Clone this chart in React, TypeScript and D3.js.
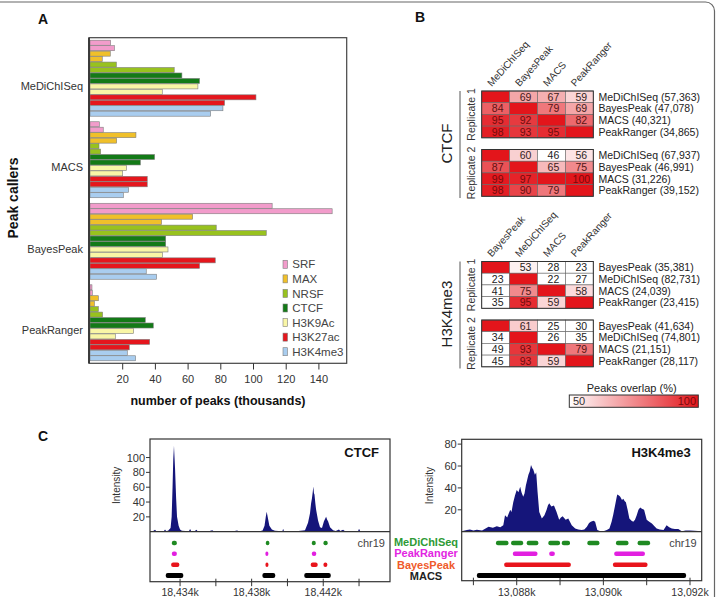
import React from "react";
import * as d3 from "d3";

const W = 720;
const H = 597;
const FONT = "'Liberation Sans', Arial, Helvetica, sans-serif";

// ---------- Panel A data ----------
const callers = ["MeDiChISeq", "MACS", "BayesPeak", "PeakRanger"];
const marks = ["SRF", "MAX", "NRSF", "CTCF", "H3K9Ac", "H3K27ac", "H3K4me3"];
const markColors = ["#f29ccb", "#f0c02a", "#98c21e", "#137a17", "#f9f6a6", "#e5161d", "#a9cdef"];
// number of peaks (thousands), two replicates per mark, in mark order
const peaksMeDiChISeq = [12.6, 14.9, 12.4, 7.5, 16.1, 51.5, 56.2, 67.0, 66.0, 44.2, 101.5, 82.3, 81.3, 73.8];
const peaksMACS = [5.7, 8.1, 28.1, 16.3, 5.5, 6.5, 39.5, 30.8, 22.4, 20.0, 35.0, 35.0, 23.6, 20.4];
const peaksBayesPeak = [111.4, 148.1, 62.8, 43.8, 77.2, 107.8, 46.3, 46.3, 47.7, 44.4, 76.6, 67.0, 34.4, 40.7];
const peaksPeakRanger = [1.2, 1.4, 5.1, 2.7, 5.1, 7.7, 33.8, 38.7, 26.7, 15.5, 36.5, 24.0, 22.8, 27.9];
const peaksByCaller = [peaksMeDiChISeq, peaksMACS, peaksBayesPeak, peaksPeakRanger];
const xTicksA = [20, 40, 60, 80, 100, 120, 140];

// ---------- Panel B data ----------
const ctcfCols = ["MeDiChISeq", "BayesPeak", "MACS", "PeakRanger"];
const ctcfRep1 = [
  [null, 69, 67, 59],
  [84, null, 79, 69],
  [95, 92, null, 82],
  [98, 93, 95, null],
];
const ctcfRep2 = [
  [null, 60, 46, 56],
  [87, null, 65, 75],
  [99, 97, null, 100],
  [98, 90, 79, null],
];
const ctcfRep1Labels = ["MeDiChISeq (57,363)", "BayesPeak (47,078)", "MACS (40,321)", "PeakRanger (34,865)"];
const ctcfRep2Labels = ["MeDiChISeq (67,937)", "BayesPeak (46,991)", "MACS (31,226)", "PeakRanger (39,152)"];

const k4Cols = ["BayesPeak", "MeDiChISeq", "MACS", "PeakRanger"];
const k4Rep1 = [
  [null, 53, 28, 23],
  [23, null, 22, 27],
  [41, 75, null, 58],
  [35, 95, 59, null],
];
const k4Rep2 = [
  [null, 61, 25, 30],
  [34, null, 26, 35],
  [49, 93, null, 79],
  [45, 93, 59, null],
];
const k4Rep1Labels = ["BayesPeak (35,381)", "MeDiChISeq (82,731)", "MACS (24,039)", "PeakRanger (23,415)"];
const k4Rep2Labels = ["BayesPeak (41,634)", "MeDiChISeq (74,801)", "MACS (21,151)", "PeakRanger (28,117)"];
const overlapDomain = [50, 100];

// ---------- Panel C data ----------
const trackCallers = ["MeDiChISeq", "PeakRanger", "BayesPeak", "MACS"];
const trackColors = ["#1f8a22", "#e21fe0", "#e8141c", "#000000"];
const trackLabelColors = ["#2e9a36", "#e225e2", "#ef5a2a", "#222222"];

const ctcfSignal: [number, number][] = [
  [18432.35, 0.5], [18432.5, 0.8], [18432.6, 2.5], [18432.68, 0.6], [18432.9, 0.7], [18433.1, 0.8],
  [18433.16, 3], [18433.22, 0.8], [18433.33, 1.2], [18433.47, 5], [18433.53, 20], [18433.58, 60],
  [18433.62, 98], [18433.66, 116], [18433.69, 100], [18433.72, 85], [18433.78, 45], [18433.83, 20],
  [18433.92, 8], [18434.0, 3], [18434.1, 1.2], [18434.3, 0.8], [18434.5, 1], [18434.56, 3.5],
  [18434.62, 0.8], [18434.8, 0.6], [18434.92, 2.5], [18434.98, 0.6], [18435.3, 0.5], [18435.6, 0.6],
  [18435.8, 2], [18435.88, 0.6], [18436.2, 0.6], [18436.6, 0.8], [18437.0, 0.6], [18437.18, 1.5],
  [18437.3, 0.6], [18437.8, 0.7], [18438.3, 0.8], [18438.5, 1], [18438.61, 1.5], [18438.72, 8],
  [18438.79, 20], [18438.84, 27], [18438.91, 18], [18438.99, 8], [18439.13, 3], [18439.3, 1.2],
  [18439.5, 0.8], [18439.72, 1], [18439.76, 4], [18439.8, 1], [18440.2, 0.7], [18440.6, 0.8],
  [18440.87, 1.5], [18440.98, 2], [18441.15, 12], [18441.22, 20], [18441.26, 25], [18441.32, 38],
  [18441.37, 45], [18441.42, 55], [18441.45, 61], [18441.48, 52], [18441.51, 50], [18441.56, 38],
  [18441.6, 30], [18441.66, 22], [18441.71, 15], [18441.82, 6], [18441.93, 5], [18442.04, 14],
  [18442.1, 17], [18442.16, 20], [18442.22, 16], [18442.27, 14], [18442.38, 6], [18442.55, 2],
  [18442.7, 1], [18442.88, 3], [18442.95, 1], [18443.11, 2.5], [18443.2, 0.8], [18443.6, 0.6],
  [18443.95, 1], [18444.0, 4], [18444.06, 1], [18444.5, 0.6], [18445.0, 0.5], [18445.7, 0.5],
];
const ctcfIntervals: [number, number][][] = [
  [[18433.54, 18433.82], [18438.79, 18438.99], [18441.36, 18441.58], [18442.01, 18442.25]],
  [[18433.54, 18433.82], [18438.8, 18438.9], [18441.36, 18441.61]],
  [[18433.5, 18433.96], [18438.79, 18438.92], [18441.3, 18441.69], [18442.01, 18442.23]],
  [[18433.2, 18434.18], [18438.6, 18439.32], [18440.94, 18442.42]],
];
const ctcfXTicks = [18434, 18436, 18438, 18440, 18442, 18444];
const ctcfXLabels = [18434, 18438, 18442];
const ctcfYTicks = [20, 40, 60, 80, 100];

const k4Signal: [number, number][] = [
  [13086.73, 0.5], [13086.85, 1.5], [13086.92, 2], [13087.0, 1], [13087.08, 1.8], [13087.2, 1.2],
  [13087.35, 4.5], [13087.45, 3.5], [13087.54, 5], [13087.62, 4], [13087.69, 6], [13087.73, 15],
  [13087.78, 13], [13087.85, 20], [13087.88, 18], [13087.92, 27], [13087.96, 33], [13088.0, 38],
  [13088.04, 36], [13088.08, 41], [13088.11, 36], [13088.15, 32], [13088.18, 35], [13088.21, 42],
  [13088.24, 47], [13088.27, 52], [13088.3, 55], [13088.33, 61], [13088.36, 58], [13088.38, 57],
  [13088.42, 52], [13088.45, 54], [13088.48, 37], [13088.52, 18], [13088.58, 12], [13088.64, 15],
  [13088.69, 20], [13088.72, 24], [13088.75, 26], [13088.8, 23], [13088.86, 24], [13088.92, 18],
  [13088.98, 11], [13089.02, 13], [13089.06, 14], [13089.13, 11], [13089.19, 12], [13089.27, 6],
  [13089.35, 3], [13089.42, 2], [13089.5, 1.5], [13089.56, 2], [13089.62, 4.5], [13089.67, 8],
  [13089.71, 9], [13089.77, 10], [13089.81, 9], [13089.86, 1.5], [13089.93, 0.5], [13090.0, 0.3],
  [13090.08, 1.5], [13090.14, 3], [13090.19, 9], [13090.23, 16], [13090.27, 24], [13090.3, 30],
  [13090.32, 34], [13090.36, 33], [13090.39, 32], [13090.43, 29], [13090.46, 30], [13090.49, 28],
  [13090.52, 27], [13090.56, 20], [13090.6, 12], [13090.65, 10], [13090.69, 9], [13090.73, 11],
  [13090.77, 15], [13090.81, 20], [13090.85, 22], [13090.89, 21], [13090.94, 20], [13091.0, 11],
  [13091.06, 9], [13091.12, 7.5], [13091.18, 5], [13091.23, 3], [13091.3, 2], [13091.39, 1.5],
  [13091.46, 6], [13091.52, 4], [13091.58, 3], [13091.65, 2.5], [13091.73, 2.4], [13091.81, 0.5],
  [13091.9, 1], [13092.0, 1], [13092.1, 0.8], [13092.27, 0.5],
];
const k4Intervals: [number, number][][] = [
  [[13087.52, 13087.81], [13087.87, 13088.15], [13088.23, 13088.5], [13088.73, 13089.0],
   [13089.04, 13089.23], [13089.63, 13089.91], [13090.29, 13090.58], [13090.79, 13091.08]],
  [[13087.91, 13088.48], [13088.75, 13088.88], [13090.25, 13090.96]],
  [[13087.71, 13089.25], [13090.22, 13091.02]],
  [[13087.08, 13091.91]],
];
const k4XTicks = [13087, 13088, 13089, 13090, 13091, 13092];
const k4XLabels = [13088, 13090, 13092];
const k4YTicks = [20, 40, 60, 80];

// ---------- Components ----------
const overlapColor = d3.scaleLinear<string>().domain(overlapDomain).range(["#ffffff", "#e3151b"]).clamp(true);
const overlapText = d3.scaleLinear<string>().domain(overlapDomain).range(["#222222", "#7a0a0a"]).clamp(true);

type HeatProps = {
  top: number;
  cols: string[];
  rep1: (number | null)[][];
  rep2: (number | null)[][];
  labels1: string[];
  labels2: string[];
  title: string;
};

function Heatmap({ top, cols, rep1, rep2, labels1, labels2, title }: HeatProps) {
  const x = d3.scaleBand<string>().domain(cols).range([481.7, 593.3]);
  const slots = d3.scaleBand<number>().domain(d3.range(9)).range([top, top + 9 * 11.7]);
  const blocks = [
    { data: rep1, labels: labels1, off: 0, name: "Replicate 1" },
    { data: rep2, labels: labels2, off: 5, name: "Replicate 2" },
  ];
  const bw = x.bandwidth();
  const rh = slots.bandwidth();
  return (
    <g>
      {cols.map((c) => (
        <text
          key={c}
          transform={`translate(${x(c)! + bw / 2 - 4},${top - 4}) rotate(-48)`}
          fontSize={10}
          fill="#333"
        >
          {c}
        </text>
      ))}
      <line x1={460} x2={460} y1={top} y2={top + 107} stroke="#555" strokeWidth={1} />
      <text
        transform={`translate(${452},${top + 52.6}) rotate(-90)`}
        textAnchor="middle"
        fontSize={15}
        fill="#222"
      >
        {title}
      </text>
      {blocks.map((b) => {
        const y0 = slots(b.off)!;
        return (
          <g key={b.name}>
            <text
              transform={`translate(${474.5},${y0 + 2 * rh}) rotate(-90)`}
              textAnchor="middle"
              fontSize={10.5}
              fill="#333"
            >
              {b.name}
            </text>
            {b.data.map((row, ri) =>
              row.map((v, ci) => {
                const val = v === null ? 100 : v;
                const cx = x(cols[ci])!;
                const cy = slots(b.off + ri)!;
                return (
                  <g key={`${ri}-${ci}`}>
                    <rect x={cx} y={cy} width={bw} height={rh} fill={overlapColor(val)} stroke="#666" strokeWidth={0.6} />
                    {v !== null && (
                      <text
                        x={cx + bw / 2 + 2}
                        y={cy + rh / 2}
                        dy="0.36em"
                        textAnchor="middle"
                        fontSize={10.5}
                        fill={overlapText(val)}
                      >
                        {v}
                      </text>
                    )}
                  </g>
                );
              })
            )}
            <rect x={481.7} y={y0} width={593.3 - 481.7} height={4 * rh} fill="none" stroke="#333" strokeWidth={1} />
            {b.labels.map((l, i) => (
              <text key={l} x={598.5} y={slots(b.off + i)! + rh / 2} dy="0.36em" fontSize={10.5} fill="#222">
                {l}
              </text>
            ))}
          </g>
        );
      })}
    </g>
  );
}

type TrackProps = {
  left: number;
  right: number;
  top: number;
  bottom: number;
  base: number;
  xDomain: [number, number];
  yMax: number;
  yTicks: number[];
  xTicks: number[];
  xLabels: number[];
  signal: [number, number][];
  intervals: [number, number][][];
  title: string;
  intensityX: number;
};

function Track(p: TrackProps) {
  const x = d3.scaleLinear().domain(p.xDomain).range([p.left, p.right]);
  const y = d3.scaleLinear().domain([0, p.yMax]).range([p.base, p.top]);
  const rows = d3.scalePoint<string>().domain(trackCallers).range([543, 575.5]);
  const area = d3
    .area<[number, number]>()
    .x((d) => x(d[0]))
    .y0(p.base)
    .y1((d) => y(d[1]))
    .curve(d3.curveLinear);
  const fmt = d3.format(",");
  return (
    <g>
      <path d={area(p.signal)!} fill="#15157a" />
      <rect x={p.left} y={p.top} width={p.right - p.left} height={p.bottom - p.top} fill="none" stroke="#333" strokeWidth={1.2} />
      <line x1={p.left} x2={p.right} y1={p.base} y2={p.base} stroke="#333" strokeWidth={1.2} />
      {p.yTicks.map((t) => (
        <g key={t}>
          <line x1={p.left - 4} x2={p.left} y1={y(t)} y2={y(t)} stroke="#333" />
          <text x={p.left - 5} y={y(t)} dy="0.36em" textAnchor="end" fontSize={11} fill="#333">
            {t}
          </text>
        </g>
      ))}
      <text
        transform={`translate(${p.intensityX},${(p.top + p.base) / 2}) rotate(-90)`}
        textAnchor="middle"
        fontSize={10}
        fill="#333"
      >
        Intensity
      </text>
      <text x={p.right - 11} y={p.top + 13} dy="0.36em" textAnchor="end" fontSize={13} fontWeight="bold" fill="#111">
        {p.title}
      </text>
      <text x={p.right - 5} y={rows("MeDiChISeq")!} dy="0.36em" textAnchor="end" fontSize={11} fill="#444">
        chr19
      </text>
      {p.xTicks.map((t) => (
        <line key={t} x1={x(t)} x2={x(t)} y1={p.bottom - 3} y2={p.bottom + 4.5} stroke="#333" />
      ))}
      {p.xLabels.map((t) => (
        <text key={t} x={x(t)} y={595.5} textAnchor="middle" fontSize={10.5} fill="#333">
          {fmt(t)}k
        </text>
      ))}
      {p.intervals.map((segs, i) =>
        segs.map((s, j) => {
          const x0 = x(s[0]);
          const x1 = x(s[1]);
          const w = Math.max(3, x1 - x0);
          const h = i === 3 ? 5 : 4.5;
          return (
            <rect
              key={`${i}-${j}`}
              x={(x0 + x1) / 2 - w / 2}
              y={rows(trackCallers[i])! - h / 2}
              width={w}
              height={h}
              rx={2}
              fill={trackColors[i]}
            />
          );
        })
      )}
    </g>
  );
}

export default function App() {
  // Panel A scales
  const ax = d3.scaleLinear().domain([0, 157]).range([90, 346.7]);
  const ay = d3
    .scaleBand<string>()
    .domain(callers)
    .range([37.7, 363.3])
    .paddingInner(0.068)
    .paddingOuter(0.031);
  const by = d3
    .scaleBand<number>()
    .domain(d3.range(marks.length * 2))
    .range([0, ay.bandwidth()])
    .paddingInner(0.08);
  const legendY = d3.scalePoint<string>().domain(marks).range([264.3, 351.7]);
  const rowsC = d3.scalePoint<string>().domain(trackCallers).range([542, 576]);

  return (
    <svg
      width={W}
      height={H}
      viewBox={`0 0 ${W} ${H}`}
      style={{ position: "absolute", left: 0, top: 0, fontFamily: FONT, background: "#fff" }}
    >
      <rect x={0} y={0} width={W} height={H} fill="#fff" />
      <rect x={-20} y={2} width={734.5} height={640} rx={9} fill="none" stroke="#666" strokeWidth={1.2} />

      {/* Panel letters */}
      <text x={43} y={19} dy="0.36em" textAnchor="middle" fontSize={14} fontWeight="bold" fill="#111">A</text>
      <text x={420} y={17} dy="0.36em" textAnchor="middle" fontSize={14} fontWeight="bold" fill="#111">B</text>
      <text x={43} y={436} dy="0.36em" textAnchor="middle" fontSize={14} fontWeight="bold" fill="#111">C</text>

      {/* Panel A */}
      <g>
        {callers.map((c, gi) =>
          peaksByCaller[gi].map((v, i) => (
            <rect
              key={`${c}-${i}`}
              x={ax(0)}
              y={ay(c)! + by(i)!}
              width={ax(v) - ax(0)}
              height={by.bandwidth()}
              fill={markColors[Math.floor(i / 2)]}
              stroke="#7d7d7d"
              strokeWidth={0.6}
            />
          ))
        )}
        <rect x={89} y={37.7} width={346.7 - 89} height={363.3 - 37.7} fill="none" stroke="#444" strokeWidth={1.2} />
        <line x1={89} x2={89} y1={37.7} y2={363.3} stroke="#333" strokeWidth={1.8} />
        {xTicksA.map((t) => (
          <g key={t}>
            <line x1={ax(t)} x2={ax(t)} y1={363.3} y2={369.5} stroke="#333" />
            <text x={ax(t)} y={379.5} dy="0.36em" textAnchor="middle" fontSize={11} fill="#333">{t}</text>
          </g>
        ))}
        {callers.map((c) => (
          <text key={c} x={83} y={ay(c)! + ay.bandwidth() * 0.6} dy="0.36em" textAnchor="end" fontSize={11} fill="#333">
            {c}
          </text>
        ))}
        <text x={218} y={400} dy="0.36em" textAnchor="middle" fontSize={12.5} fontWeight="bold" fill="#111">
          number of peaks (thousands)
        </text>
        <text transform="translate(13,198) rotate(-90)" dy="0.36em" textAnchor="middle" fontSize={14} fontWeight="bold" fill="#111">
          Peak callers
        </text>
        {marks.map((m, i) => (
          <g key={m}>
            <rect x={283} y={legendY(m)! - 4} width={4.5} height={8} fill={markColors[i]} stroke="#7d7d7d" strokeWidth={0.6} />
            <text x={292.3} y={legendY(m)!} dy="0.36em" fontSize={11.5} fill="#444">{m}</text>
          </g>
        ))}
      </g>

      {/* Panel B */}
      <Heatmap top={91} cols={ctcfCols} rep1={ctcfRep1} rep2={ctcfRep2} labels1={ctcfRep1Labels} labels2={ctcfRep2Labels} title="CTCF" />
      <Heatmap top={261.5} cols={k4Cols} rep1={k4Rep1} rep2={k4Rep2} labels1={k4Rep1Labels} labels2={k4Rep2Labels} title="H3K4me3" />
      <defs>
        <linearGradient id="overlapGrad" x1="0" x2="1" y1="0" y2="0">
          <stop offset="0%" stopColor={overlapColor(overlapDomain[0])} />
          <stop offset="100%" stopColor={overlapColor(overlapDomain[1])} />
        </linearGradient>
      </defs>
      <text x={631.7} y={387.7} dy="0.36em" textAnchor="middle" fontSize={11} fill="#222">Peaks overlap (%)</text>
      <rect x={569.3} y={395} width={129} height={12.3} fill="url(#overlapGrad)" stroke="#333" strokeWidth={1} />
      <text x={573} y={401.2} dy="0.36em" fontSize={11} fill="#333">{overlapDomain[0]}</text>
      <text x={696} y={401.2} dy="0.36em" textAnchor="end" fontSize={11} fill="#7a0a0a">{overlapDomain[1]}</text>

      {/* Panel C */}
      <Track
        left={150}
        right={390}
        top={439}
        bottom={581.7}
        base={531.7}
        xDomain={[18432.32, 18445.73]}
        yMax={125}
        yTicks={ctcfYTicks}
        xTicks={ctcfXTicks}
        xLabels={ctcfXLabels}
        signal={ctcfSignal}
        intervals={ctcfIntervals}
        title="CTCF"
        intensityX={120}
      />
      <Track
        left={461.7}
        right={701.7}
        top={439.3}
        bottom={580.7}
        base={531.7}
        xDomain={[13086.73, 13092.27]}
        yMax={84.4}
        yTicks={k4YTicks}
        xTicks={k4XTicks}
        xLabels={k4XLabels}
        signal={k4Signal}
        intervals={k4Intervals}
        title="H3K4me3"
        intensityX={433}
      />
      {trackCallers.map((c, i) => (
        <text key={c} x={426} y={rowsC(c)!} dy="0.36em" textAnchor="middle" fontSize={11} fontWeight="bold" fill={trackLabelColors[i]}>
          {c}
        </text>
      ))}
    </svg>
  );
}
